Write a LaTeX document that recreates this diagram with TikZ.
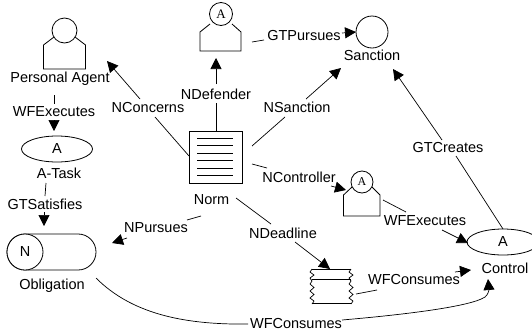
\documentclass[tikz,border=0pt]{standalone}
\usepackage{fontspec}
\setmainfont{Liberation Sans}
\newfontfamily\serifA{Liberation Serif}
\usetikzlibrary{arrows.meta,shapes.geometric}
\tikzset{
  shp/.style={draw=black,line width=0.8pt,fill=white},
  lbl/.style={inner sep=0pt,font=\fontsize{14.5}{16}\selectfont},
  edgeline/.style={draw=black,line width=0.7pt},
  arr/.style={edgeline,-{Triangle[length=11pt,width=11pt]}},
  place/.style={circle,shp,inner sep=0pt},
}
\newcommand{\agentbody}[6]{% left right shoulder bottom joinL joinR
  \draw[shp] (#5,#3-8) -- (#1,#3) -- (#1,#4) -- (#2,#4) -- (#2,#3) -- (#6,#3-8);}
\begin{document}
\begin{tikzpicture}[x=1pt,y=-1pt]
\useasboundingbox (0,0) rectangle (532,335);
\clip (0,0) rectangle (532,335);
% Personal agent
\agentbody{43.5}{85.5}{45}{69}{54}{75}
\node[place,minimum size=25pt] (pa) at (64.5,30.5) {};
\node[lbl] (patext) at (60,79) {Personal Agent};
% Defender
\agentbody{200}{241}{32}{51}{210}{232}
\node[place,minimum size=23pt,font=\serifA\fontsize{13}{14}\selectfont] (def) at (221,14) {A};
% Sanction
\node[place,minimum size=32pt] (san) at (372,32) {};
\node[lbl] (santext) at (372,55) {Sanction};
% Norm
\draw[shp] (189,131) rectangle (242,183);
\foreach \y in {138,145.5,153,160.5,168,175} \draw[line width=0.8pt] (197,\y) -- (233,\y);
\node[lbl] (norm) at (211.5,200) {Norm};
% A-Task
\node[ellipse,shp,minimum width=71pt,minimum height=26pt,inner sep=0pt,lbl] (atask) at (57,149) {A};
\node[lbl] (ataskt) at (59,173) {A-Task};
% Obligation
\draw[shp,rounded corners=17.9pt] (7,234) rectangle (96,270);
\node[place,minimum size=36pt,lbl] (obl) at (25,252) {N};
\node[lbl] (oblt) at (52,286) {Obligation};
% Controller
\agentbody{343.5}{380}{195}{216}{352}{372}
\node[place,minimum size=22pt,font=\serifA\fontsize{12}{13}\selectfont] (ctl) at (362,182) {A};
% Control
\node[ellipse,shp,minimum width=72pt,minimum height=26pt,inner sep=0pt,lbl] (control) at (503,242) {A};
\node[lbl] (controlt) at (505,268) {Control};
% Resource
\draw[shp] (312,269) -- (351,269);
\draw[shp] (312,279) -- (351,279);
\draw[shp] (312,303) -- (351,303);
\foreach \xx in {312,351}
  \draw[line width=0.7pt] (\xx,269) -- ++(-2,3) -- ++(4,3) -- ++(-4,3) -- ++(2,3) -- ++(-2,3) -- ++(4,3.5) -- ++(-4,3.5) -- ++(4,3.5) -- ++(-4,3.5) -- ++(4,3) -- ++(-2,3);
% Edge labels
\node[lbl] (l1) at (54,112) {WFExecutes};
\node[lbl] (l2) at (148,108) {NConcerns};
\node[lbl] (l3) at (216,94) {NDefender};
\node[lbl] (l4) at (304,36) {GTPursues};
\node[lbl] (l5) at (297,107) {NSanction};
\node[lbl] (l6) at (448,148) {GTCreates};
\node[lbl] (l7) at (299,177) {NController};
\node[lbl] (l8) at (425,221) {WFExecutes};
\node[lbl] (l9) at (45,204) {GTSatisfies};
\node[lbl] (l10) at (156,228) {NPursues};
\node[lbl] (l11) at (283,233) {NDeadline};
\node[lbl] (l12) at (414,280) {WFConsumes};
\node[lbl] (l13) at (296,324) {WFConsumes};
% Edges
\draw[edgeline] (54,95) -- (54,104);
\draw[arr] (54,120) -- (54,131);
\draw[edgeline] (46,183) -- (45,196);
\draw[arr] (44,212) -- (44,226);
\draw[edgeline] (189,156) -- (155,117);
\draw[arr] (140,99) -- (107,61);
\draw[edgeline] (216,131) -- (216,103);
\draw[arr] (216,84) -- (216,58);
\draw[edgeline] (252,42) -- (264,40);
\draw[arr] (342,33) -- (356,32);
\draw[edgeline] (252,146) -- (285,117);
\draw[arr] (306,99) -- (341,68);
\draw[edgeline] (252,164) -- (267,168);
\draw[arr] (331,186) -- (346,190);
\draw[edgeline] (383,200) -- (406,212);
\draw[arr] (442,230) -- (468,243);
\draw[edgeline] (503,229) -- (456,156);
\draw[arr] (442,140) -- (393,69);
\draw[edgeline] (201,216) -- (187,220);
\draw[arr] (127,238) -- (112,243);
\draw[edgeline] (236,198) -- (271,224);
\draw[arr] (295,242) -- (330,269);
\draw[edgeline] (356,294) -- (377,290);
\draw[arr] (455,272) -- (471,270);
\draw[edgeline] (96,278) .. controls (130,312) and (180,325) .. (248,324);
\draw[arr] (342,320) .. controls (400,315) and (470,307) .. (485,297) .. controls (488,295) and (489,290) .. (488,279);
\end{tikzpicture}
\end{document}
